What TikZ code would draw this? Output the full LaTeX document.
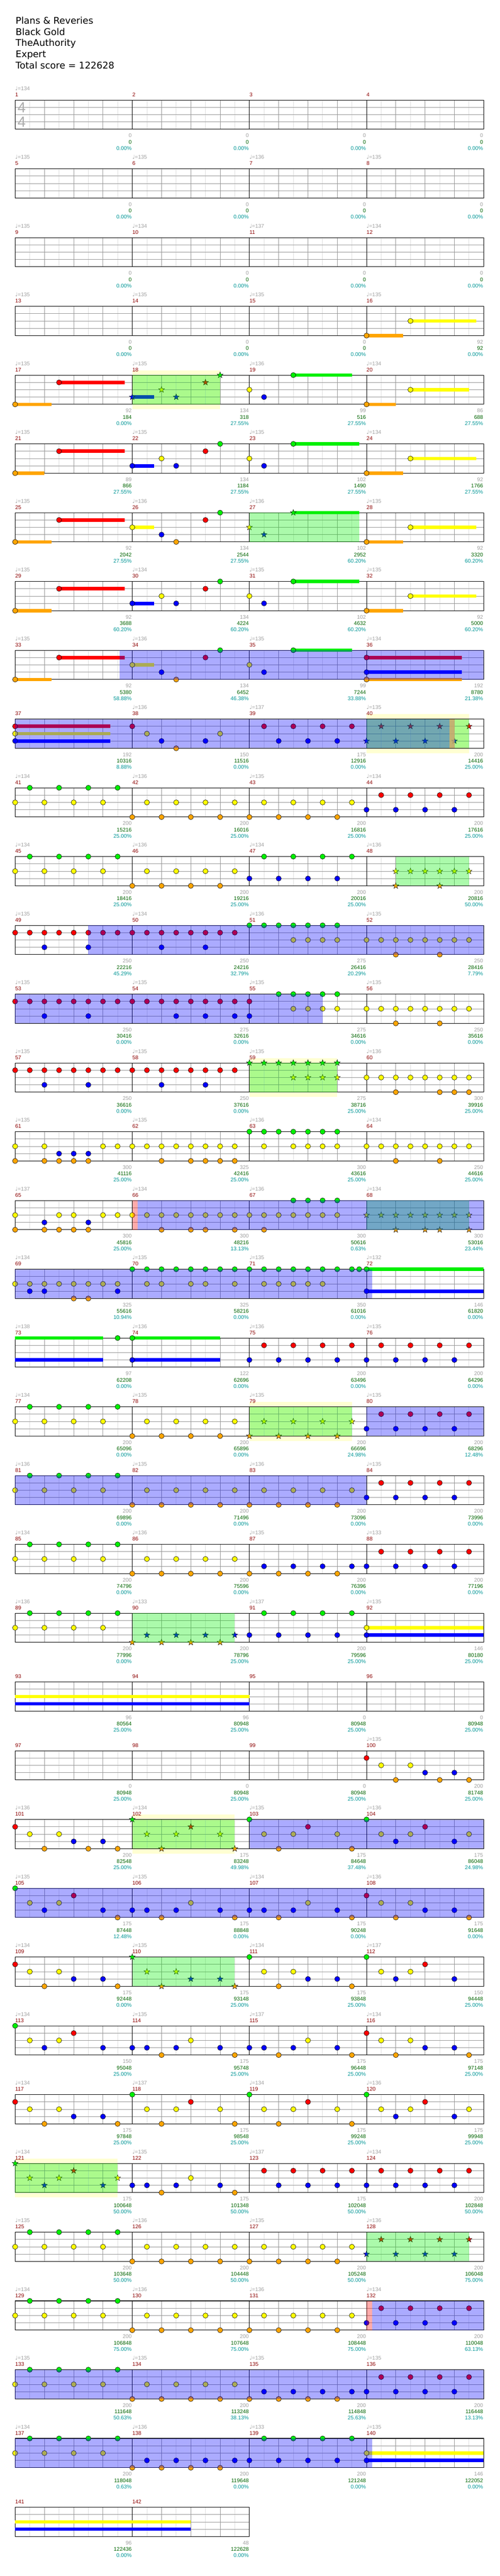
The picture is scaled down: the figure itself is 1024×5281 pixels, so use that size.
\documentclass[tikz,border=0pt]{standalone}
\usepackage{fontspec}
\setmainfont{Liberation Sans}
\newfontfamily\dejavu{DejaVu Sans}

% lane colours: green, red, yellow, blue, orange
\definecolor{lane0}{RGB}{0,240,0}
\definecolor{lane1}{RGB}{255,0,0}
\definecolor{lane2}{RGB}{255,255,0}
\definecolor{lane3}{RGB}{0,0,255}
\definecolor{lane4}{RGB}{255,165,0}
\definecolor{bandyellow}{RGB}{255,255,210}
\definecolor{gridlight}{RGB}{222,222,222}
\definecolor{gridmid}{RGB}{150,150,150}
\definecolor{mnumred}{RGB}{140,0,0}
\definecolor{tempogray}{RGB}{160,160,160}
\definecolor{statgreen}{RGB}{0,100,0}
\definecolor{statcyan}{RGB}{0,150,150}
\definecolor{fadetan}{RGB}{200,165,110}

\tikzset{
  head/.style={anchor=base west, inner sep=0pt, font=\dejavu\fontsize{19}{23}\selectfont},
  mnum/.style={anchor=base west, inner sep=0pt, text=mnumred, font=\fontsize{11}{13}\selectfont},
  tempo/.style={anchor=base west, inner sep=0pt, text=tempogray, font=\fontsize{11}{13}\selectfont},
  stat a/.style={anchor=base east, inner sep=0pt, text=tempogray, font=\fontsize{11}{13}\selectfont},
  stat b/.style={anchor=base east, inner sep=0pt, text=statgreen, font=\fontsize{11}{13}\selectfont},
  stat c/.style={anchor=base east, inner sep=0pt, text=statcyan, font=\fontsize{11}{13}\selectfont},
  timesig/.style={inner sep=0pt, text=black!33, font=\fontsize{30}{30}\selectfont},
  halfbeat/.style={draw=gridlight, line width=0.8pt},
  beat/.style={draw=gridmid, line width=0.8pt},
  laneline/.style={draw=gridmid, line width=0.8pt},
  barline/.style={draw=black, line width=0.8pt},
  staffedge/.style={draw=black, line width=1.2pt},
  gem/.style={draw=black, line width=0.6pt},
  star gem/.style={draw=black, line width=0.5pt},
  sp band/.style={fill=bandyellow},
  sp phrase/.style={fill=lane0, fill opacity=0.33},
  sp active/.style={fill=lane3, fill opacity=0.33},
  sp gap/.style={fill=lane1, fill opacity=0.33},
}

% measure #1, eighth #2 -> \nx, \ny (top of the staff)
\newcommand\mpos[2]{%
  \pgfmathsetmacro\nx{31+240*mod(#1-1,4)+30*(#2)}%
  \pgfmathsetmacro\ny{205+141*floor((#1-1)/4)}}
% notes
\newcommand\gem[3]{\mpos{#1}{#2}\filldraw[gem, fill=lane#3] (\nx,{\ny+15*#3}) circle (5.3);}
\newcommand\sgem[3]{\mpos{#1}{#2}\filldraw[star gem, fill=lane#3] (\nx,{\ny+15*#3})
  +(-90:6.5) -- +(-54:2.6) -- +(-18:6.5) -- +(18:2.6) -- +(54:6.5) -- +(90:2.6)
  -- +(126:6.5) -- +(162:2.6) -- +(198:6.5) -- +(234:2.6) -- cycle;}
\newcommand\sus[4]{\mpos{#1}{#2}\fill[lane#4] (\nx,{\ny+15*#4-3.5}) rectangle ({\nx+30*(#3-(#2))},{\ny+15*#4+3.5});}
\newcommand\hold[4]{\sus{#1}{#2}{#3}{#4}\gem{#1}{#2}{#4}}
% shaded stretches
\newcommand\spband[3]{\mpos{#1}{#2}\fill[sp band] (\nx,{\ny-10}) rectangle ({\nx+30*(#3-(#2))},{\ny+70});}
\newcommand\spzone[3]{\mpos{#1}{#2}\fill[sp phrase] (\nx,\ny) rectangle ({\nx+30*(#3-(#2))},{\ny+60});}
\newcommand\spact[3]{\mpos{#1}{#2}\fill[sp active] (\nx,\ny) rectangle ({\nx+30*(#3-(#2))},{\ny+60});}
\newcommand\spgap[3]{\mpos{#1}{#2}\fill[sp gap] (\nx,\ny) rectangle ({\nx+30*(#3-(#2))},{\ny+60});}
% numbers under a measure
\newcommand\stats[4]{\mpos{#1}{8}%
  \node[stat a] (a#1) at ({\nx-1},{\ny+77}) {#2};
  \node[stat b] (b#1) at ({\nx-1},{\ny+90}) {#3};
  \node[stat c] (c#1) at ({\nx-1},{\ny+102.5}) {#4\%};}

% riffs of the last part
\def\riffP{0/1,1/2,3/2,2/4,5/4,7/4,4/3,6/3}
\def\riffQ{0/0,1/2,3/2,6/2,4/1,2/4,7/4}
\def\riffR{0/0,1/2,3/2,7/2,4/1,2/3,6/3}
\def\riffS{0/0,1/2,3/2,4/1,2/3,6/3}
\def\riffT{0/3,1/3,3/3,6/3,2/4,7/4,4/2}
\def\riffU{0/1,1/2,3/2,4/3,6/3,2/4,7/4}
\def\riffV{0/0,1/2,3/2,4/3,6/3,2/4,7/4}

\begin{document}
\begin{tikzpicture}[x=1pt, y=-1pt]
\useasboundingbox (0,0) rectangle (1024,5281);
\fill[white] (0,0) rectangle (1024,5281);

% song header
\node[head] (song) at (32,49) {Plans \& Reveries};
\node[head] (artist) at (32,72) {Black Gold};
\node[head] (charter) at (32,95) {TheAuthority};
\node[head] (level) at (32,118) {Expert};
\node[head] (total) at (32,141.5) {Total score = 122628};

% yellow bands behind some phrases
\foreach \m/\lo/\hi in {18/0/6,40/0/7,59/0/6,79/0/7,102/0/7,121/0/7}{\spband{\m}{\lo}{\hi}}

% staff grid, four measures per line
\foreach \rw in {0,...,35}{
  \pgfmathsetmacro\ry{205+141*\rw}
  \pgfmathtruncatemacro\nm{\rw==35 ? 2 : 4}
  \pgfmathtruncatemacro\nb{4*\nm}
  \foreach \kk in {1,...,\nb}{
    \draw[halfbeat] ({31+60*\kk-30},\ry) -- ++(0,60);
    \draw[beat] ({31+60*\kk},\ry) -- ++(0,60);
  }
  \foreach \ll in {15,30,45}
    \draw[laneline] (31,{\ry+\ll}) -- ++({240*\nm},0);
  \foreach \kk in {1,...,\nm}
    \draw[barline] ({31+240*\kk},\ry) -- ++(0,60);
  \draw[staffedge] (31,\ry) rectangle ++({240*\nm},60);
}
\node[timesig] (sig top) at (44.5,220) {4};
\node[timesig] (sig bottom) at (44.5,250) {4};

% measure numbers, tempi, scores
\foreach \m in {1,...,142}{\mpos{\m}{0}\node[mnum] (m\m) at (\nx,{\ny-7}) {\m};}
\foreach \m/\bpm in {1/134,5/135,6/135,7/136,8/135,9/135,10/134,11/137,12/134,13/135,14/135,15/135,16/135,
  17/135,18/135,19/136,20/134,21/135,22/135,23/135,24/134,25/135,26/136,27/136,28/135,29/135,30/134,31/135,32/135,
  33/135,34/136,35/135,36/134,38/136,39/137,40/135,41/134,42/136,43/135,44/134,45/134,46/136,47/134,48/136,
  49/135,50/134,51/136,52/135,53/135,54/135,55/135,56/135,57/135,58/135,59/135,60/136,61/135,62/135,63/136,64/134,
  65/137,66/134,67/136,68/134,69/134,70/135,71/135,72/132,73/138,74/136,75/136,76/135,77/134,78/135,79/135,80/135,
  81/136,82/135,83/136,84/135,85/134,86/136,87/135,88/133,89/136,90/133,91/137,92/135,100/135,
  101/136,102/134,103/135,104/136,105/135,106/135,107/134,108/136,109/134,110/135,111/134,112/137,
  113/134,114/135,115/137,116/134,117/134,118/137,119/134,120/136,121/134,122/135,123/137,124/134,
  125/135,126/136,127/135,128/136,129/134,130/136,131/136,132/134,133/135,134/135,135/135,136/135,
  137/134,138/136,139/133,140/135}{\mpos{\m}{0}\node[tempo] (t\m) at (\nx,{\ny-20}) {{\dejavu ♩}=\bpm};}
\foreach \m in {1,...,15}{\stats{\m}{0}{0}{0.00}}
\foreach \m/\ga/\gb/\gc in {16/92/92/0.00,17/92/184/0.00,18/134/318/27.55,19/99/516/27.55,20/86/688/27.55,
  21/89/866/27.55,22/134/1184/27.55,23/102/1490/27.55,24/92/1766/27.55,25/92/2042/27.55,26/134/2544/27.55,
  27/102/2952/60.20,28/92/3320/60.20,29/92/3688/60.20,30/134/4224/60.20,31/102/4632/60.20,32/92/5000/60.20,
  33/92/5380/58.88,34/134/6452/46.38,35/99/7244/33.88,36/192/8780/21.38,37/192/10316/8.88,38/150/11516/0.00,
  39/175/12916/0.00,40/200/14416/25.00,41/200/15216/25.00,42/200/16016/25.00,43/200/16816/25.00,44/200/17616/25.00,
  45/200/18416/25.00,46/200/19216/25.00,47/200/20016/25.00,48/200/20816/50.00,49/250/22216/45.29,50/250/24216/32.79,
  51/275/26416/20.29,52/250/28416/7.79,53/250/30416/0.00,54/275/32616/0.00,55/275/34616/0.00,56/250/35616/0.00,
  57/250/36616/0.00,58/250/37616/0.00,59/275/38716/25.00,60/300/39916/25.00,61/300/41116/25.00,62/325/42416/25.00,
  63/300/43616/25.00,64/250/44616/25.00,65/300/45816/25.00,66/300/48216/13.13,67/300/50616/0.63,68/300/53016/23.44,
  69/325/55616/10.94,70/325/58216/0.00,71/350/61016/0.00,72/146/61820/0.00,73/97/62208/0.00,74/122/62696/0.00,
  75/200/63496/0.00,76/200/64296/0.00,77/200/65096/0.00,78/200/65896/0.00,79/200/66696/24.98,80/200/68296/12.48,
  81/200/69896/0.00,82/200/71496/0.00,83/200/73096/0.00,84/200/73996/0.00,85/200/74796/0.00,86/200/75596/0.00,
  87/200/76396/0.00,88/200/77196/0.00,89/200/77996/0.00,90/200/78796/25.00,91/200/79596/25.00,92/146/80180/25.00,
  93/96/80564/25.00,94/96/80948/25.00,95/0/80948/25.00,96/0/80948/25.00,97/0/80948/25.00,98/0/80948/25.00,
  99/0/80948/25.00,100/200/81748/25.00,101/200/82548/25.00,102/175/83248/49.98,103/175/84648/37.48,104/175/86048/24.98,
  105/175/87448/12.48,106/175/88848/0.00,107/175/90248/0.00,108/175/91648/0.00,109/175/92448/0.00,110/175/93148/25.00,
  111/175/93848/25.00,112/150/94448/25.00,113/150/95048/25.00,114/175/95748/25.00,115/175/96448/25.00,116/175/97148/25.00,
  117/175/97848/25.00,118/175/98548/25.00,119/175/99248/25.00,120/175/99948/25.00,121/175/100648/50.00,122/175/101348/50.00,
  123/175/102048/50.00,124/200/102848/50.00,125/200/103648/50.00,126/200/104448/50.00,127/200/105248/50.00,128/200/106048/75.00,
  129/200/106848/75.00,130/200/107648/75.00,131/200/108448/75.00,132/200/110048/63.13,133/200/111648/50.63,134/200/113248/38.13,
  135/200/114848/25.63,136/200/116448/13.13,137/200/118048/0.63,138/200/119648/0.00,139/200/121248/0.00,140/146/122052/0.00,
  141/96/122436/0.00,142/48/122628/0.00}{\stats{\m}{\ga}{\gb}{\gc}}

% --- notes ---
% opening holds
\hold{16}{0}{2.5}{4} \hold{16}{3}{7.5}{2}
\hold{17}{0}{2.5}{4} \hold{17}{3}{7.5}{1}
\sus{18}{0}{1.5}{3}
\foreach \p/\fr in {0/3,2/2,3/3,5/1,6/0}{\sgem{18}{\p}{\fr}}
\gem{19}{0}{2} \gem{19}{1}{3} \hold{19}{3}{7}{0}
\hold{20}{0}{2}{4} \hold{20}{3}{7}{2}
\hold{21}{0}{2}{4} \hold{21}{3}{7.5}{1}
\hold{22}{0}{1.5}{3}
\foreach \p/\fr in {2/2,3/3,5/1,6/0}{\gem{22}{\p}{\fr}}
\gem{23}{0}{2} \gem{23}{1}{3} \hold{23}{3}{7.5}{0}
\hold{24}{0}{2.5}{4} \hold{24}{3}{7.5}{2}
\foreach \m in {25,29,33}{\hold{\m}{0}{2.5}{4} \hold{\m}{3}{7.5}{1}}
\hold{26}{0}{1.5}{2}
\foreach \p/\fr in {2/3,3/4,5/1,6/0}{\gem{26}{\p}{\fr}}
\sus{27}{3}{7.5}{0}
\foreach \p/\fr in {0/2,1/3,3/0}{\sgem{27}{\p}{\fr}}
\foreach \m in {28,32}{\hold{\m}{0}{2.5}{4} \hold{\m}{3}{7.5}{2}}
\hold{30}{0}{1.5}{3}
\foreach \p/\fr in {2/2,3/3,5/1,6/0}{\gem{30}{\p}{\fr}}
\gem{31}{0}{2} \gem{31}{1}{3} \hold{31}{3}{7.5}{0}
\hold{34}{0}{1.5}{2}
\foreach \p/\fr in {2/3,3/4,5/1,6/0}{\gem{34}{\p}{\fr}}
\gem{35}{0}{2} \gem{35}{1}{3} \hold{35}{3}{7}{0}
\foreach \fr in {1,3,4}{\hold{36}{0}{6.5}{\fr}}
\foreach \fr in {1,2,3}{\hold{37}{0}{6.5}{\fr}}
\foreach \p/\fr in {0/1,1/2,2/3,3/4,5/3,6/2}{\gem{38}{\p}{\fr}}
\foreach \p/\fr in {1/1,3/1,5/1,7/1,2/3,4/3,6/3}{\gem{39}{\p}{\fr}}
\foreach \p/\fr in {1/1,3/1,5/1,7/1,0/3,2/3,4/3,6/3}{\sgem{40}{\p}{\fr}}

% eighth-note chugs: off-beats on one lane, beats on another
\foreach \m/\hi/\lo in {41/0/2,42/2/4,43/2/4,44/1/3,45/0/2,46/2/4,47/0/3,75/1/3,76/1/3,77/0/2,78/2/4,80/1/3,
  81/0/2,82/2/4,83/2/4,84/1/3,85/0/2,86/2/4,87/3/4,88/1/3,89/0/2,91/0/3,124/1/3,125/0/2,126/2/4,127/2/4,
  129/0/2,130/2/4,131/2/4,132/1/3,133/0/2,134/2/4,135/3/4,136/1/3,137/0/2,138/3/4,139/0/3}{
  \foreach \p in {1,3,5,7}{\gem{\m}{\p}{\hi}}
  \foreach \p in {0,2,4,6}{\gem{\m}{\p}{\lo}}
}
\foreach \m/\hi/\lo in {79/2/4,90/3/4,128/1/3}{
  \foreach \p in {1,3,5,7}{\sgem{\m}{\p}{\hi}}
  \foreach \p in {0,2,4,6}{\sgem{\m}{\p}{\lo}}
}
\foreach \p in {2,...,7}{\sgem{48}{\p}{2}}
\sgem{48}{2}{4} \sgem{48}{5}{4}

% streams
\foreach \m in {49,50,53,54,57,58}{\foreach \p in {0,...,7}{\gem{\m}{\p}{1}}}
\foreach \m/\p in {49/2,49/5,50/2,50/5,53/2,53/5,54/3,54/5,54/7,55/0,57/2,57/5,58/2,58/5}{\gem{\m}{\p}{3}}
\gem{55}{0}{1}
\foreach \p in {0,...,6}{\gem{51}{\p}{0}}
\foreach \p in {2,...,6}{\gem{55}{\p}{0}}
\foreach \m in {51,55}{\foreach \p in {3,...,6}{\gem{\m}{\p}{2}}}
\foreach \p in {0,...,6}{\sgem{59}{\p}{0}}
\foreach \p in {3,...,6}{\sgem{59}{\p}{2}}
\foreach \m in {52,56,60,62,64,66,69}{\foreach \p in {0,...,7}{\gem{\m}{\p}{2}}}
\foreach \m/\p in {52/2,52/5,56/2,56/5,60/2,60/5,60/6,60/7,62/2,62/4,62/5,62/6,62/7,64/2,64/5,
  66/2,66/4,66/5,66/7,67/1,69/4,69/5}{\gem{\m}{\p}{4}}
\foreach \p/\fr in {0/2,2/2,6/2,7/2,3/3,4/3,5/3,0/4,2/4,3/4,4/4,5/4}{\gem{61}{\p}{\fr}}
\foreach \p/\fr in {0/2,3/2,4/2,6/2,7/2,2/3,5/3,0/4,2/4,3/4,4/4,5/4}{\gem{65}{\p}{\fr}}
\foreach \p in {0,...,6}{\gem{63}{\p}{0}}
\foreach \p in {1,3,4,5,6}{\gem{63}{\p}{2}}
\foreach \p in {0,...,6}{\gem{67}{\p}{2}}
\foreach \p in {3,...,6}{\gem{67}{\p}{0}}
\foreach \p in {0,...,7}{\sgem{68}{\p}{2}}
\foreach \p in {2,4,5,7}{\sgem{68}{\p}{4}}
\foreach \p in {1,2,7}{\gem{69}{\p}{3}}
\foreach \p in {0,...,7}{\gem{70}{\p}{0}}
\foreach \p in {1,2,4,5,7}{\gem{70}{\p}{2}}
\foreach \p in {0,...,7,7.5}{\gem{71}{\p}{0}}
\foreach \p in {1,...,5}{\gem{71}{\p}{2}}

% long holds
\hold{72}{0}{8}{0} \hold{72}{0}{8}{3}
\sus{73}{0}{6}{0} \sus{73}{0}{6}{3} \gem{73}{7}{0}
\hold{74}{0}{6}{0} \hold{74}{0}{6}{3}
\hold{92}{0}{8}{2} \hold{92}{0}{8}{3}
\sus{93}{0}{16}{2} \sus{93}{0}{16}{3}
\hold{140}{0}{8}{2} \hold{140}{0}{8}{3}
\sus{141}{0}{12}{2} \sus{141}{0}{12}{3}

% riffs
\foreach \m in {100,101}{\foreach \p/\fr in \riffP {\gem{\m}{\p}{\fr}}}
\foreach \p/\fr in \riffQ {\sgem{102}{\p}{\fr}}
\foreach \m in {103,118,119}{\foreach \p/\fr in \riffQ {\gem{\m}{\p}{\fr}}}
\foreach \m in {104,120}{\foreach \p/\fr in \riffR {\gem{\m}{\p}{\fr}}}
\foreach \p/\fr in \riffR {\sgem{121}{\p}{\fr}}
\foreach \m in {105,112,113}{\foreach \p/\fr in \riffS {\gem{\m}{\p}{\fr}}}
\gem{105}{7}{4}
\foreach \m in {106,107,114,115,122}{\foreach \p/\fr in \riffT {\gem{\m}{\p}{\fr}}}
\foreach \m in {108,109,116,117}{\foreach \p/\fr in \riffU {\gem{\m}{\p}{\fr}}}
\foreach \p/\fr in \riffV {\sgem{110}{\p}{\fr}}
\foreach \p/\fr in \riffV {\gem{111}{\p}{\fr}}
\foreach \p in {1,3,5,7}{\gem{123}{\p}{1}}
\foreach \p in {2,4,6}{\gem{123}{\p}{3}}

% star phrases
\foreach \m/\lo/\hi in {18/0/6,27/0/7.5,40/0/7,48/2/7,59/0/6,68/0/7,79/0/7,90/0/7,102/0/7,110/0/7,121/0/7,128/0/7}{\spzone{\m}{\lo}{\hi}}
% star power in use
\foreach \m/\lo/\hi in {33/7.13/32,37/0/29.67,49/5/32,53/0/21,66/0.37/24,69/0/24.37,80/0/8,81/0/24,
  103/0/16,105/0/32,132/0.37/8,133/0/32,137/0/24.37}{\spact{\m}{\lo}{\hi}}
\foreach \m in {66,132}{\spgap{\m}{0}{0.37}}
\mpos{40}{5.67}
\fill[fadetan, fill opacity=0.85] (\nx,\ny) rectangle ({\nx+10},{\ny+60});
\end{tikzpicture}
\end{document}
